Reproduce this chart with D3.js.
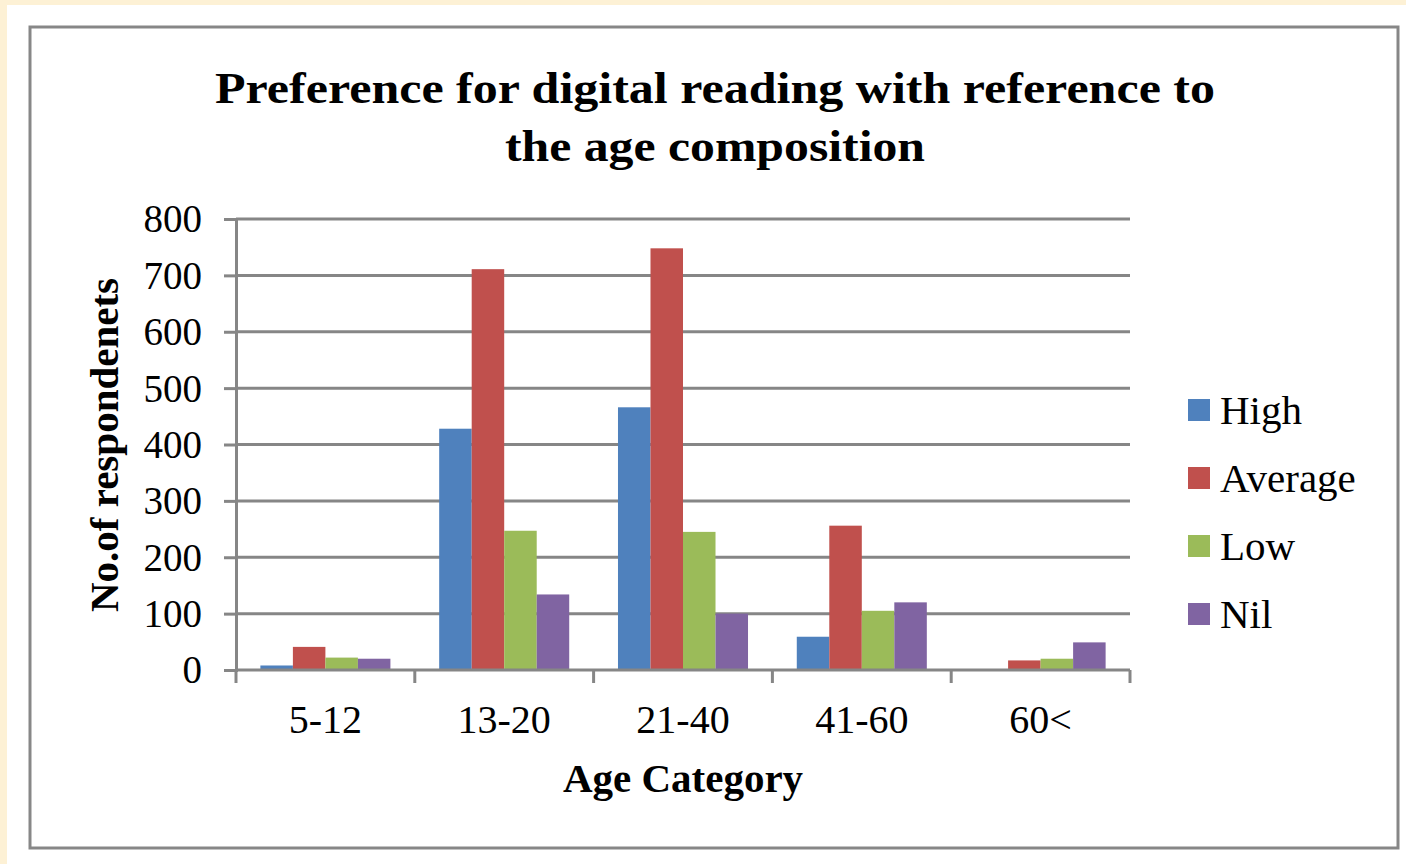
<!DOCTYPE html>
<html>
<head>
<meta charset="utf-8">
<script src="https://cdn.jsdelivr.net/npm/d3@7"></script>
<style>
  html, body { margin: 0; padding: 0; background: #fdf1d5; }
  svg { display: block; }
  text { font-family: "Liberation Serif", "Times New Roman", serif; fill: #000; }
</style>
</head>
<body>
<svg id="chart" width="1406" height="864"></svg>
<script>
// Age groups and respondent counts per preference level
const categories = ["5-12", "13-20", "21-40", "41-60", "60<"];
const seriesNames = ["High", "Average", "Low", "Nil"];
const high    = [8, 428, 466, 59, 0];
const average = [41, 711, 748, 256, 17];
const low     = [22, 247, 245, 105, 20];
const nil     = [20, 134, 100, 120, 49];
const yTicks  = [0, 100, 200, 300, 400, 500, 600, 700, 800];
const colors  = ["#4f81bd", "#c0504d", "#9bbb59", "#8064a2"];

const seriesValues = [high, average, low, nil];

const svg = d3.select("#chart");

// page background, white sheet and chart frame
svg.append("rect").attr("x", 7).attr("y", 5).attr("width", 1399).attr("height", 859).attr("fill", "#ffffff");
svg.append("rect").attr("x", 30).attr("y", 27).attr("width", 1368).attr("height", 821)
  .attr("fill", "#ffffff").attr("stroke", "#878787").attr("stroke-width", 3);

const plot = { left: 236, right: 1130, top: 219, bottom: 670 };

const x = d3.scaleBand().domain(categories).range([plot.left, plot.right]).padding(0);
const gap = x.bandwidth() * 1.5 / 5.5;
const xs = d3.scaleBand().domain(seriesNames).range([gap / 2, x.bandwidth() - gap / 2]).padding(0);
const y = d3.scaleLinear().domain([0, 800]).range([plot.bottom, plot.top]);

const gridColor = "#868686";

// horizontal gridlines
svg.append("g").selectAll("line").data(yTicks.filter(d => d > 0)).join("line")
  .attr("x1", plot.left).attr("x2", plot.right)
  .attr("y1", d => y(d)).attr("y2", d => y(d))
  .attr("stroke", gridColor).attr("stroke-width", 3);

// y axis
const yAxis = svg.append("g").attr("transform", `translate(${plot.left},0)`)
  .call(d3.axisLeft(y).tickValues(yTicks).tickSize(12).tickPadding(22).tickFormat(d3.format("d")));
yAxis.select(".domain").attr("stroke", gridColor).attr("stroke-width", 3);
yAxis.selectAll(".tick line").attr("stroke", gridColor).attr("stroke-width", 3);
yAxis.selectAll(".tick text").attr("font-size", 39).attr("font-family", "Liberation Serif").attr("fill", "#000").attr("dy", "0.33em");

// bars
const groups = svg.append("g").selectAll("g").data(seriesNames).join("g")
  .attr("fill", (d, i) => colors[i]);
groups.selectAll("rect")
  .data((s, i) => categories.map((c, j) => ({ c, s, v: seriesValues[i][j] })))
  .join("rect")
  .attr("x", d => x(d.c) + xs(d.s))
  .attr("width", xs.bandwidth())
  .attr("y", d => y(d.v))
  .attr("height", d => y(0) - y(d.v));

// x axis with tick marks at category boundaries
svg.append("line").attr("x1", plot.left).attr("x2", plot.right)
  .attr("y1", plot.bottom).attr("y2", plot.bottom)
  .attr("stroke", gridColor).attr("stroke-width", 3);
const bounds = categories.map(c => x(c)).concat([plot.right]);
svg.append("g").selectAll("line").data(bounds).join("line")
  .attr("x1", d => d).attr("x2", d => d)
  .attr("y1", plot.bottom).attr("y2", plot.bottom + 13)
  .attr("stroke", gridColor).attr("stroke-width", 3);
svg.append("g").selectAll("text").data(categories).join("text")
  .attr("x", d => x(d) + x.bandwidth() / 2)
  .attr("y", 733)
  .attr("text-anchor", "middle")
  .attr("font-size", 40)
  .text(d => d);

// axis titles
svg.append("text").attr("x", 683).attr("y", 792).attr("text-anchor", "middle")
  .attr("font-size", 41).attr("font-weight", "bold").text("Age Category");
svg.append("text").attr("transform", "translate(118,445) rotate(-90)").attr("text-anchor", "middle")
  .attr("font-size", 41).attr("font-weight", "bold").text("No.of respondenets");

// chart title
const title = svg.append("g");
title.append("text").attr("x", 715).attr("y", 103).attr("text-anchor", "middle")
  .attr("font-size", 44).attr("font-weight", "bold")
  .attr("textLength", 1000).attr("lengthAdjust", "spacingAndGlyphs")
  .text("Preference for digital reading with reference to");
title.append("text").attr("x", 715).attr("y", 161).attr("text-anchor", "middle")
  .attr("font-size", 44).attr("font-weight", "bold")
  .attr("textLength", 420).attr("lengthAdjust", "spacingAndGlyphs")
  .text("the age composition");

// legend
const legendY = d3.scalePoint().domain(seriesNames).range([410, 614]);
const legend = svg.append("g").selectAll("g").data(seriesNames).join("g")
  .attr("transform", d => `translate(1188,${legendY(d)})`);
legend.append("rect").attr("x", 0).attr("y", -11).attr("width", 22).attr("height", 22)
  .attr("fill", (d, i) => colors[i]);
legend.append("text").attr("x", 32).attr("y", 14).attr("font-size", 41).text(d => d);
</script>
</body>
</html>
